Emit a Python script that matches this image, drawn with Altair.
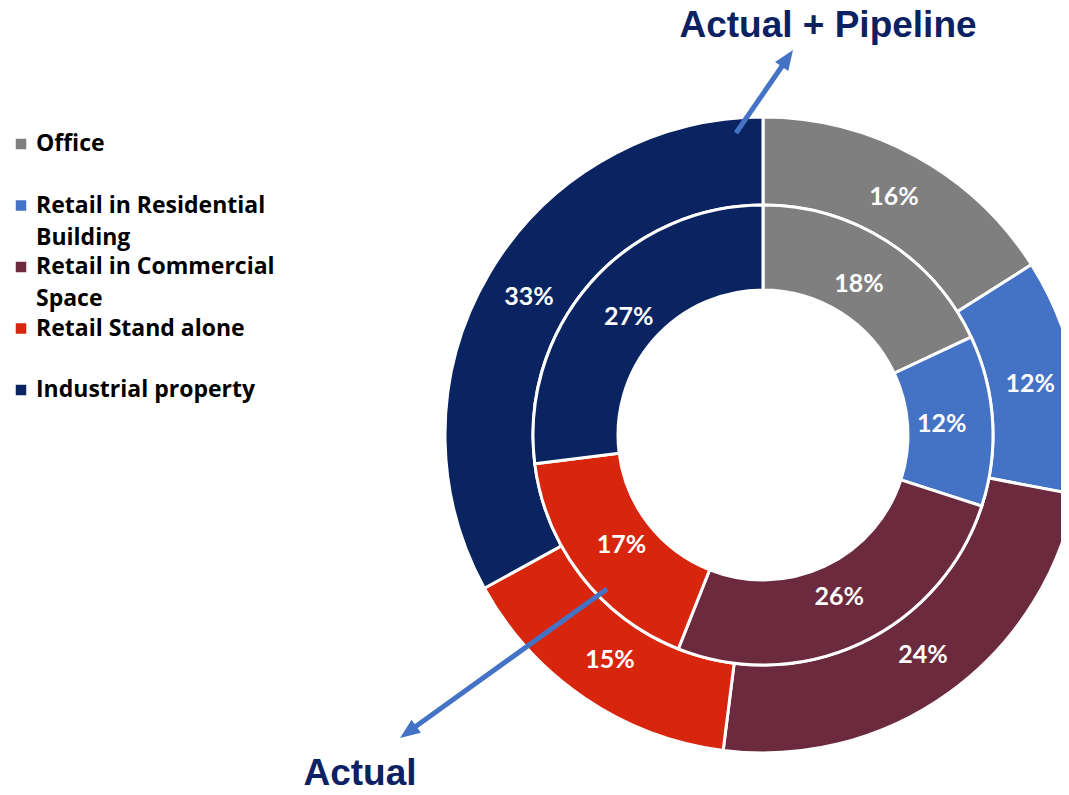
import altair as alt
import pandas as pd

# ---- data ----
categories = ["Office", "Retail in Residential Building", "Retail in Commercial Space",
              "Retail Stand alone", "Industrial property"]
outer_pct = [16, 12, 24, 15, 33]   # Actual + Pipeline
inner_pct = [18, 12, 26, 17, 27]   # Actual
colors = ["#7F7F7F", "#4472C4", "#6B2A3D", "#D8260E", "#0A2462"]
legend_line1 = ["Office", "Retail in Residential", "Retail in Commercial", "Retail Stand alone", "Industrial property"]
legend_line2 = ["", "Building", "Space", "", ""]
title_outer = ["Actual + Pipeline"]
title_inner = ["Actual"]

W, H = 1053, 779
CX, CY = 755, 427
NAVY = "#0B2161"
ARROW = "#4472C4"

color_scale = alt.Scale(domain=categories, range=colors)


def ring_df(vals):
    return pd.DataFrame({"category": categories, "order": list(range(len(vals))),
                         "value": vals, "label": [f"{v}%" for v in vals]})


def ring(vals, r_out, r_in, r_lab):
    base = alt.Chart(ring_df(vals)).encode(
        theta=alt.Theta("value:Q", stack=True),
        order=alt.Order("order:Q"),
        detail="category:N",
    )
    arc = base.mark_arc(radius=r_out, radius2=r_in, stroke="white", strokeWidth=3).encode(
        color=alt.Color("category:N", scale=color_scale, legend=None),
        x=alt.value(CX), y=alt.value(CY),
    )
    txt = base.mark_text(radius=r_lab, font="Lato", fontWeight="bold", fontSize=25,
                         color="white", baseline="middle", align="center").encode(
        text="label:N", x=alt.value(CX), y=alt.value(CY),
    )
    return arc + txt


outer = ring(outer_pct, 318, 230, 272)
inner = ring(inner_pct, 230, 145, 179)

# ---- legend ----
leg_df = pd.DataFrame({"category": categories, "idx": list(range(5)),
                       "line1": legend_line1, "line2": legend_line2})
leg_y = alt.Y("idx:O", scale=alt.Scale(type="point", range=[136, 382], padding=0), axis=None)
leg_base = alt.Chart(leg_df).encode(y=leg_y)
leg_sym = leg_base.mark_square(size=110, opacity=1).encode(
    x=alt.value(13), color=alt.Color("category:N", scale=color_scale, legend=None))
leg_t1 = leg_base.mark_text(align="left", baseline="middle", font="Open Sans", fontWeight="bold",
                            fontSize=23, color="black").encode(x=alt.value(28), text="line1:N")
leg_t2 = leg_base.mark_text(align="left", baseline="middle", font="Open Sans", fontWeight="bold",
                            fontSize=23, color="black", dy=32).encode(x=alt.value(28), text="line2:N")

# ---- titles ----
t_outer = alt.Chart(pd.DataFrame({"t": title_outer})).mark_text(
    font="Liberation Sans", fontWeight="bold", fontSize=37, color=NAVY, align="center",
    baseline="alphabetic").encode(text="t:N", x=alt.value(820), y=alt.value(29))
t_inner = alt.Chart(pd.DataFrame({"t": title_inner})).mark_text(
    font="Liberation Sans", fontWeight="bold", fontSize=37, color=NAVY, align="center",
    baseline="alphabetic").encode(text="t:N", x=alt.value(352), y=alt.value(777))

# ---- arrows ----
head_path = "M0,0 L0.8,2 L-0.8,2 Z"
one = pd.DataFrame({"k": [0]})
a1_line = alt.Chart(one).mark_rule(color=ARROW, strokeWidth=5).encode(
    x=alt.value(728), y=alt.value(125), x2=alt.value(779), y2=alt.value(51))
a1_head = alt.Chart(one).mark_point(shape=head_path, filled=True, color=ARROW, opacity=1,
                                     size=400, angle=34.5, strokeWidth=0).encode(
    x=alt.value(785), y=alt.value(42))
a2_line = alt.Chart(one).mark_rule(color=ARROW, strokeWidth=5).encode(
    x=alt.value(599), y=alt.value(581), x2=alt.value(400), y2=alt.value(724))
a2_head = alt.Chart(one).mark_point(shape=head_path, filled=True, color=ARROW, opacity=1,
                                     size=400, angle=234.3, strokeWidth=0).encode(
    x=alt.value(392), y=alt.value(730))

chart = alt.layer(
    outer, inner, leg_sym, leg_t1, leg_t2, t_outer, t_inner, a1_line, a1_head, a2_line, a2_head
).properties(
    width=W, height=H, autosize=alt.AutoSizeParams(type="none"), padding=0
).configure_view(strokeWidth=0)

chart.save("out.html", embed_options={"renderer": "svg", "actions": False})
